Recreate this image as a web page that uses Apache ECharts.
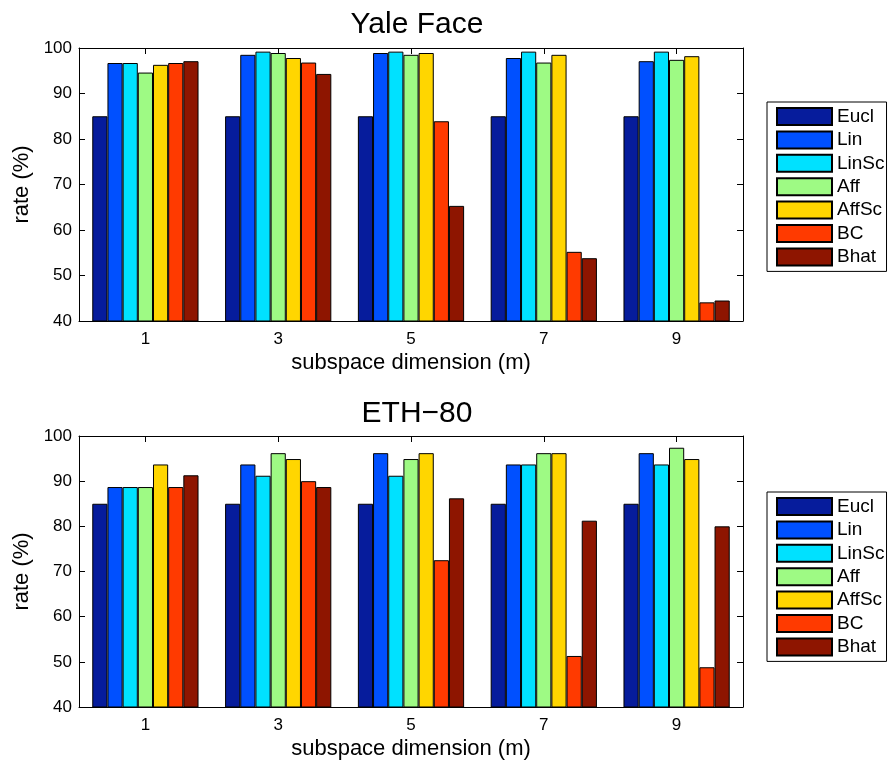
<!DOCTYPE html>
<html>
<head>
<meta charset="utf-8">
<script src="https://cdn.jsdelivr.net/npm/echarts@6/dist/echarts.min.js"></script>
<style>
html,body{margin:0;padding:0;background:#fff;}
#chart{width:889px;height:761px;}
</style>
</head>
<body>
<div id="chart"></div>
<script>
// ---- data ----
const categories = ['1', '3', '5', '7', '9'];
const seriesNames = ['Eucl', 'Lin', 'LinSc', 'Aff', 'AffSc', 'BC', 'Bhat'];
const seriesColors = ['#061c9c', '#0050ff', '#00e1ff', '#9efa84', '#ffd600', '#ff3a00', '#8e1500'];
const yTicks = [40, 50, 60, 70, 80, 90, 100];

// Yale Face
const yaleEucl  = [85.0, 85.0, 85.0, 85.0, 85.0];
const yaleLin   = [96.7, 98.5, 98.9, 97.8, 97.1];
const yaleLinSc = [96.7, 99.2, 99.2, 99.2, 99.2];
const yaleAff   = [94.6, 98.9, 98.5, 96.8, 97.4];
const yaleAffSc = [96.3, 97.8, 98.9, 98.5, 98.2];
const yaleBC    = [96.7, 96.8, 83.9, 55.2, 44.1];
const yaleBhat  = [97.1, 94.3, 65.3, 53.8, 44.5];

// ETH-80
const ethEucl  = [85.0, 85.0, 85.0, 85.0, 85.0];
const ethLin   = [88.7, 93.7, 96.2, 93.7, 96.2];
const ethLinSc = [88.7, 91.2, 91.2, 93.7, 93.7];
const ethAff   = [88.7, 96.2, 94.9, 96.2, 97.4];
const ethAffSc = [93.7, 94.9, 96.2, 96.2, 94.9];
const ethBC    = [88.7, 90.0, 72.5, 51.3, 48.8];
const ethBhat  = [91.3, 88.7, 86.2, 81.25, 80.0];

const yaleData = [yaleEucl, yaleLin, yaleLinSc, yaleAff, yaleAffSc, yaleBC, yaleBhat];
const ethData  = [ethEucl, ethLin, ethLinSc, ethAff, ethAffSc, ethBC, ethBhat];

// ---- chart ----
const FONT = 'Liberation Sans, Arial, Helvetica, sans-serif';
const chart = echarts.init(document.getElementById('chart'), null, {renderer: 'canvas'});

function xAxes(gridIndex) {
  return [
    {
      type: 'category', gridIndex, data: categories, position: 'bottom',
      axisLine: {show: true, lineStyle: {color: '#000', width: 1}},
      axisTick: {show: true, inside: true, alignWithLabel: true, length: 6, lineStyle: {color: '#000'}},
      axisLabel: {show: true, color: '#000', fontSize: 17, fontFamily: FONT, margin: 10},
      name: 'subspace dimension (m)', nameLocation: 'middle', nameGap: 31,
      nameTextStyle: {color: '#000', fontSize: 22, fontFamily: FONT},
      splitLine: {show: false}
    },
    {
      type: 'category', gridIndex, data: categories, position: 'top',
      axisLine: {show: true, lineStyle: {color: '#000', width: 1}},
      axisTick: {show: true, inside: true, alignWithLabel: true, length: 6, lineStyle: {color: '#000'}},
      axisLabel: {show: false},
      splitLine: {show: false}
    }
  ];
}

function yAxes(gridIndex) {
  const min = yTicks[0], max = yTicks[yTicks.length - 1], interval = yTicks[1] - yTicks[0];
  return [
    {
      type: 'value', gridIndex, min, max, interval, position: 'left',
      axisLine: {show: true, lineStyle: {color: '#000', width: 1}},
      axisTick: {show: true, inside: true, length: 6, lineStyle: {color: '#000'}},
      axisLabel: {show: true, color: '#000', fontSize: 17, fontFamily: FONT, margin: 7},
      name: 'rate (%)', nameLocation: 'middle', nameGap: 44,
      nameTextStyle: {color: '#000', fontSize: 22, fontFamily: FONT},
      splitLine: {show: false}
    },
    {
      type: 'value', gridIndex, min, max, interval, position: 'right',
      axisLine: {show: true, lineStyle: {color: '#000', width: 1}},
      axisTick: {show: true, inside: true, length: 6, lineStyle: {color: '#000'}},
      axisLabel: {show: false},
      splitLine: {show: false}
    }
  ];
}

function barSeries(dataSets, xIdx, yIdx) {
  return dataSets.map((d, i) => ({
    name: seriesNames[i],
    type: 'bar',
    xAxisIndex: xIdx,
    yAxisIndex: yIdx,
    data: d,
    barGap: '0%',
    barCategoryGap: '20%',
    itemStyle: {color: seriesColors[i], borderColor: '#000', borderWidth: 1},
    emphasis: {disabled: true},
    animation: false
  }));
}

function legend(top) {
  return {
    orient: 'vertical',
    left: 767,
    top: top,
    data: seriesNames,
    itemWidth: 55,
    itemHeight: 17,
    itemGap: 4.4,
    icon: 'rect',
    padding: [5, 2, 5, 9],
    borderColor: '#000',
    borderWidth: 1,
    backgroundColor: '#fff',
    textStyle: {color: '#000', fontSize: 19, fontFamily: FONT, lineHeight: 17},
    selectedMode: false
  };
}

const option = {
  animation: false,
  backgroundColor: '#fff',
  color: seriesColors,
  title: [
    {text: 'Yale Face', left: 412, top: 5, textAlign: 'center',
     textStyle: {color: '#000', fontSize: 30, fontWeight: 'normal', fontFamily: FONT}},
    {text: 'ETH\u221280', left: 412, top: 394, textAlign: 'center',
     textStyle: {color: '#000', fontSize: 30, fontWeight: 'normal', fontFamily: FONT}}
  ],
  grid: [
    {left: 79, top: 48, width: 664, height: 273},
    {left: 79, top: 436, width: 664, height: 273}
  ],
  legend: [legend(102), legend(492)],
  xAxis: [...xAxes(0), ...xAxes(1)],
  yAxis: [...yAxes(0), ...yAxes(1)],
  series: [...barSeries(yaleData, 0, 0), ...barSeries(ethData, 2, 2)]
};

chart.setOption(option);
</script>
</body>
</html>
